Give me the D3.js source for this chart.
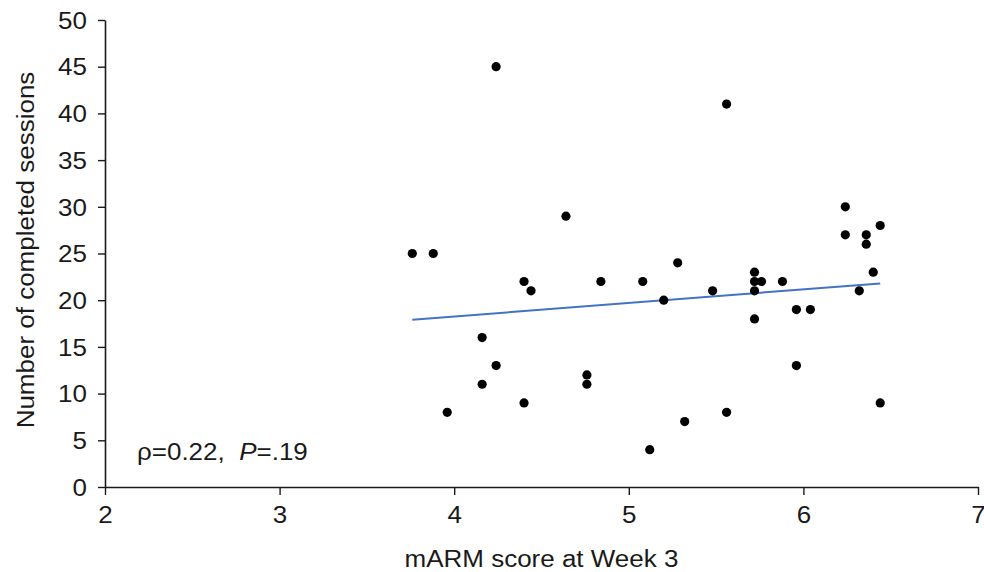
<!DOCTYPE html>
<html>
<head>
<meta charset="utf-8">
<script src="https://cdn.jsdelivr.net/npm/d3@7"></script>
<style>
  body { margin: 0; background: #fff; }
  text { font-family: "Liberation Sans", Arial, sans-serif; fill: #1a1a1a; }
</style>
</head>
<body>
<div id="chart"></div>
<script>
const width = 984, height = 572;
const margin = {top: 20, right: 6, bottom: 85, left: 105};
const stretch = 1.13; // the source font runs a bit wider than Liberation Sans

// mARM score at week 3 and completed sessions
const marmScore = [3.76, 3.88, 4.24, 3.96, 4.16, 4.16, 4.24, 4.40, 4.44, 4.40,
    4.64, 4.84, 5.08, 5.20, 5.28, 5.12, 5.32, 5.48, 5.56, 5.56,
    5.72, 5.72, 5.72, 5.76, 5.72, 5.88, 5.96, 6.04, 5.96, 6.24,
    6.24, 6.36, 6.36, 6.40, 6.44, 6.32, 6.44, 4.76, 4.76];
const sessions = [25, 25, 45, 8, 16, 11, 13, 22, 21, 9,
    29, 22, 22, 20, 24, 4, 7, 21, 41, 8,
    23, 22, 21, 22, 18, 22, 19, 19, 13, 30,
    27, 27, 26, 23, 28, 21, 9, 12, 11];
const trendX = [3.76, 6.44];
const trendY = [17.9, 21.8];
const xTicks = [2, 3, 4, 5, 6, 7];
const yTicks = [0, 5, 10, 15, 20, 25, 30, 35, 40, 45, 50];

let points = marmScore.map(function(d, i) { return {x: d, y: sessions[i]}; });
let trend = trendX.map(function(d, i) { return {x: d, y: trendY[i]}; });

let plotW = width - margin.left - margin.right;
let plotH = height - margin.top - margin.bottom;

let svg = d3.select("#chart")
    .append("svg")
    .attr("width", width)
    .attr("height", height)
    .append("g")
    .attr("transform", `translate(${margin.left}, ${margin.top})`);

let x = d3.scaleLinear().domain([2, 7]).range([0, plotW]);
let y = d3.scaleLinear().domain([0, 50]).range([plotH, 0]);

let xAxis = svg.append("g")
    .attr("transform", `translate(0, ${plotH})`)
    .call(d3.axisBottom(x).tickValues(xTicks).tickFormat(d3.format("d"))
        .tickSize(8).tickPadding(12).tickSizeOuter(0));

let yAxis = svg.append("g")
    .call(d3.axisLeft(y).tickValues(yTicks).tickFormat(d3.format("d"))
        .tickSize(7).tickPadding(11).tickSizeOuter(0));

[xAxis, yAxis].forEach(function(a) {
    a.attr("font-size", 23).attr("font-family", "'Liberation Sans', Arial, sans-serif");
    a.select(".domain").attr("stroke", "#1a1a1a").attr("stroke-width", 1.6);
    a.selectAll(".tick line").attr("stroke", "#1a1a1a").attr("stroke-width", 1.4);
    a.selectAll(".tick text")
        .attr("fill", "#1a1a1a")
        .attr("transform", `scale(${stretch}, 1)`);
});
yAxis.selectAll(".tick text")
    .attr("x", -18 / stretch)
    .attr("dy", "0.36em");

svg.append("line")
    .attr("x1", x(trend[0].x))
    .attr("y1", y(trend[0].y))
    .attr("x2", x(trend[1].x))
    .attr("y2", y(trend[1].y))
    .attr("stroke", "#4472c4")
    .attr("stroke-width", 2);

svg.append("g")
    .selectAll("circle")
    .data(points)
    .enter()
    .append("circle")
    .attr("cx", function(d) { return x(d.x); })
    .attr("cy", function(d) { return y(d.y); })
    .attr("r", 4.6)
    .attr("fill", "#000");

let note = svg.append("text")
    .attr("transform", `translate(32, 440) scale(${stretch}, 1)`)
    .style("font-size", "23px");
note.append("tspan").text("ρ=0.22,\u00a0\u00a0");
note.append("tspan").style("font-style", "italic").text("P");
note.append("tspan").text("=.19");

svg.append("text")
    .attr("transform", `translate(${plotW / 2}, ${plotH + 80}) scale(${stretch}, 1)`)
    .style("text-anchor", "middle")
    .style("font-size", "23px")
    .text("mARM score at Week 3");

svg.append("text")
    .attr("transform", `translate(${34 - margin.left}, ${250 - margin.top}) rotate(-90) scale(${stretch}, 1)`)
    .style("text-anchor", "middle")
    .style("font-size", "23px")
    .text("Number of completed sessions");
</script>
</body>
</html>
